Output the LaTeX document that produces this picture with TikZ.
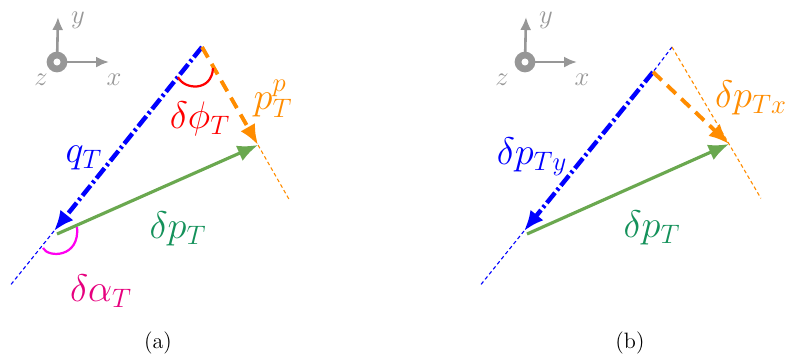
\documentclass[tikz,border=0pt]{standalone}
\usetikzlibrary{arrows.meta,calc}
\definecolor{AxisGray}{HTML}{979797}
\definecolor{VecBlue}{HTML}{0000FF}
\definecolor{VecOrange}{HTML}{FF8C00}
\definecolor{VecGreen}{HTML}{6AA84F}
\definecolor{TextGreen}{HTML}{14915A}
\definecolor{AngRed}{HTML}{FF0000}
\definecolor{ArcPink}{HTML}{FF00F0}
\definecolor{TextPink}{HTML}{E6007E}

\begin{document}
\begin{tikzpicture}[x=0.54pt,y=-0.54pt,
  thinline/.style={line width=0.6pt,dash pattern=on 2pt off 1.5pt},
  thickblue/.style={line width=2.4pt,VecBlue,dash pattern=on 7pt off 1.8pt on 1.4pt off 1.8pt},
  thickorange/.style={line width=2.1pt,VecOrange,dash pattern=on 6.5pt off 4pt},
  greenvec/.style={line width=1.7pt,VecGreen},
  bigtip/.style={-{Latex[length=11pt,width=9pt]}},
  axisline/.style={line width=1.4pt,AxisGray,-{Latex[length=7pt,width=6pt]}},
  lbl/.style={font=\huge},
  axlbl/.style={font=\Large,text=AxisGray}]
  \useasboundingbox (0,0) rectangle (785,358);

  % axis icons
  \foreach \p/\cx/\zx in {a/57/41,b/525/502}{
    \coordinate (o\p) at (\cx,62);
    \coordinate (yt\p) at (\cx+1,17);
    \coordinate (xt\p) at (\cx+52,62);
    \draw[axisline] (o\p) -- (yt\p);
    \draw[axisline] (o\p) -- (xt\p);
    \fill[AxisGray] (o\p) circle[radius=5.6pt];
    \fill[white] (o\p) circle[radius=1.9pt];
    \node[axlbl] (y\p) at (\cx+21,20) {$y$};
    \node[axlbl] (x\p) at (\cx+57,80) {$x$};
    \node[axlbl] (z\p) at (\zx,80) {$z$};
  }

  % (a)
  \coordinate (va) at (202,47);
  \coordinate (qa) at (54,231);
  \coordinate (pa) at (258,145);
  \coordinate (ga) at (57,234);
  \draw[thinline,VecBlue] (qa) -- ($(va)!1.29!(qa)$);
  \draw[thinline,VecOrange] (pa) -- ($(va)!1.55!(pa)$);
  \draw[thickblue,bigtip] (va) -- (qa);
  \draw[thickorange,bigtip] (va) -- (pa);
  \draw[greenvec,bigtip] (ga) -- (pa);
  \draw[AngRed,line width=1.2pt] (178,77) .. controls (184,90) and (212,92) .. (213,68);
  \draw[ArcPink,line width=1.2pt] (43,248) .. controls (48,258) and (80,258) .. (77,227);
  \node[lbl,text=VecBlue] (qla) at (84,158) {$q_T$};
  \node[lbl,text=AngRed] (phla) at (200,119) {$\delta\phi_T$};
  \node[lbl,text=VecOrange] (ppla) at (273,99) {$p_T^p$};
  \node[lbl,text=TextGreen] (dpla) at (178,229) {$\delta p_T$};
  \node[lbl,text=TextPink] (alla) at (101,291) {$\delta\alpha_T$};
  \node[font=\large] (capa) at (158,343) {(a)};

  % (b)
  \coordinate (vb) at (672,47);
  \coordinate (fb) at (653,72);
  \coordinate (qb) at (524,231);
  \coordinate (pb) at (729,144);
  \coordinate (gb) at (527,234);
  \draw[thinline,VecBlue] (vb) -- (fb);
  \draw[thinline,VecBlue] (qb) -- ($(vb)!1.29!(qb)$);
  \draw[thinline,VecOrange] (vb) -- ($(vb)!1.56!(pb)$);
  \draw[thickblue,bigtip] (fb) -- (qb);
  \draw[thickorange,bigtip] (fb) -- (pb);
  \draw[greenvec,bigtip] (gb) -- (pb);
  \node[lbl,text=VecBlue] (dyb) at (532,157) {$\delta p_{Ty}$};
  \node[lbl,text=VecOrange] (dxb) at (751,98) {$\delta p_{Tx}$};
  \node[lbl,text=TextGreen] (dpb) at (652,228) {$\delta p_T$};
  \node[font=\large] (capb) at (630,343) {(b)};
\end{tikzpicture}
\end{document}
